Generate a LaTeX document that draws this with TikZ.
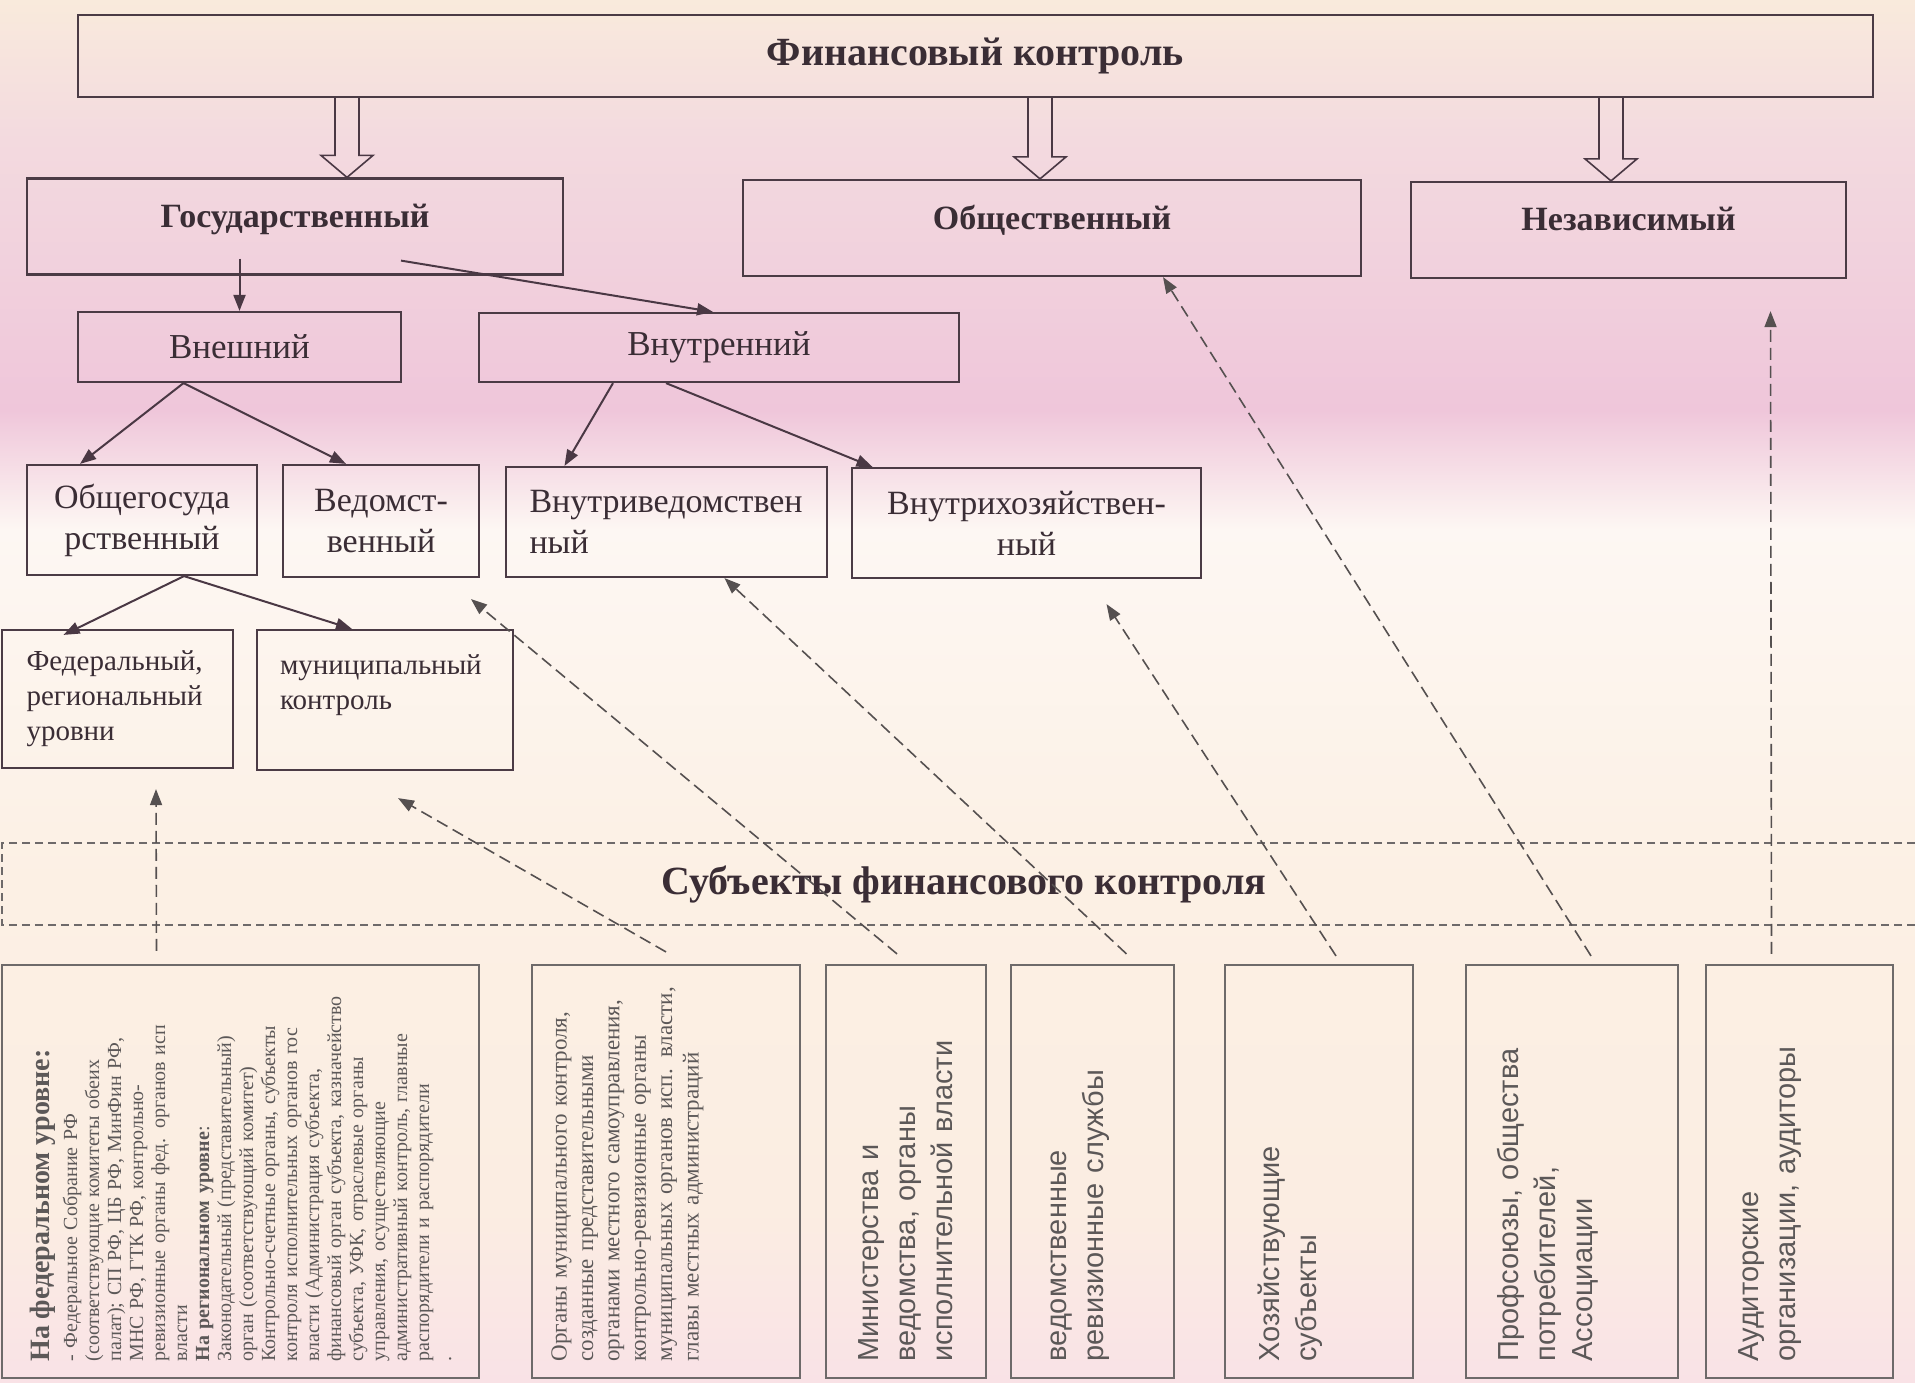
\documentclass[tikz,border=0pt]{standalone}
\usepackage{fontspec}
\setmainfont{Liberation Serif}
\newfontfamily\sansf{Liberation Sans}
\usetikzlibrary{arrows.meta}
\definecolor{bordure}{HTML}{4B3B45}
\definecolor{gris}{HTML}{6E6A6A}
\definecolor{texte}{HTML}{3A2D35}
\definecolor{textegris}{HTML}{5C5858}
\definecolor{trait}{HTML}{4A3844}
\definecolor{trait2}{HTML}{555050}
\definecolor{fondA}{HTML}{F9EADC}
\definecolor{fondB}{HTML}{F3DADF}
\definecolor{fondC}{HTML}{EFC6DA}
\definecolor{fondD}{HTML}{FDF7F3}
\definecolor{fondE}{HTML}{FCF0E4}
\definecolor{fondF}{HTML}{FBEDE2}
\definecolor{fondG}{HTML}{F9E2E6}
\tikzset{cadre/.style={draw=bordure, line width=1.1pt, inner sep=0pt, text=texte},
         niveau/.style={cadre, minimum height=48pt, font=\bfseries\fontsize{17}{20}\selectfont},
         palier/.style={cadre, font=\fontsize{17.5}{21}\selectfont},
         forme/.style={cadre, align=center, font=\fontsize{17}{20.5}\selectfont},
         echelon/.style={cadre, align=left, font=\fontsize{14.5}{17.5}\selectfont},
         sujet/.style={draw=gris, line width=1.1pt, rotate=90, inner sep=0pt,
                       minimum width=206.5pt, text width=190pt, align=left,
                       text=textegris, font=\sansf\fontsize{14.5}{18.5}\selectfont},
         fleche/.style={draw=trait, line width=1pt, -{Triangle[length=8pt,width=6pt]}},
         tirets/.style={draw=trait2, line width=0.8pt, dash pattern=on 6pt off 3pt,
                        -{Triangle[length=8pt,width=6pt]}},
         bande/.style={draw=gris, line width=1.2pt, dash pattern=on 4pt off 2.5pt},
         creux/.style={draw=trait, line width=0.8pt}}
% hollow arrow from the top box down to #2, at x = #1
\newcommand{\creuse}[2]{%
  \path (#1,0 |- fin.south) coordinate (haut) (#1,0 |- #2.north) coordinate (bas);
  \draw[creux] ([xshift=-6pt]haut) -- ([xshift=-6pt,yshift=11pt]bas)
     -- ([xshift=-13pt,yshift=11pt]bas) -- (bas) -- ([xshift=13pt,yshift=11pt]bas)
     -- ([xshift=6pt,yshift=11pt]bas) -- ([xshift=6pt]haut);}

\begin{document}
\begin{tikzpicture}[x=0.5pt,y=-0.5pt]
\useasboundingbox (0,0) rectangle (1915,1382);
% Background:
\shade[top color=fondA, bottom color=fondB] (0,0) rectangle (1915,140);
\shade[top color=fondB, bottom color=fondC] (0,140) rectangle (1915,410);
\shade[top color=fondC, bottom color=fondD] (0,410) rectangle (1915,530);
\shade[top color=fondD, bottom color=fondE] (0,530) rectangle (1915,880);
\shade[top color=fondE, bottom color=fondF] (0,880) rectangle (1915,1210);
\shade[top color=fondF, bottom color=fondG] (0,1210) rectangle (1915,1382);

% Top box:
\node[cadre, minimum width=897.5pt, minimum height=41pt,
      font=\bfseries\fontsize{20}{24}\selectfont] (fin) at (975.5,56) {Финансовый контроль};
% Kinds of control:
\node[niveau, minimum width=268pt] (gos) at (295,226.5) {\raisebox{11pt}{Государственный}};
\node[niveau, minimum width=309pt] (obsh) at (1052,228) {\raisebox{11pt}{Общественный}};
\node[niveau, minimum width=217.5pt] (nezav) at (1628.5,230) {\raisebox{11pt}{Независимый}};
\node[palier, minimum width=161.5pt, minimum height=35pt] (vnesh) at (239.5,347) {Внешний};
\node[palier, minimum width=240pt, minimum height=34.5pt] (vnutr) at (719,347.5) {Внутренний};
\node[forme, minimum width=114.75pt, minimum height=55pt] (obshgos) at (142,520) {Общегосуда\\рственный};
\node[forme, minimum width=98pt, minimum height=56pt] (vedom) at (381,521) {Ведомст-\\венный};
\node[forme, align=left, text width=137pt, minimum width=160.5pt, minimum height=55pt] (vnved) at (666.5,522) {Внутриведомствен\\ный};
\node[forme, minimum width=174.5pt, minimum height=55pt] (vnhoz) at (1026.5,523) {Внутрихозяйствен-\\ный};
\node[echelon, text width=91pt, minimum width=115.5pt, minimum height=69pt] (fed) at (117.5,699) {Федеральный,\\региональный\\уровни};
\node[echelon, text width=105pt, minimum width=128pt, minimum height=70pt] (mun) at (385,700) {муниципальный\\контроль\\\mbox{}};

% Hollow arrows:
\creuse{347}{gos}
\creuse{1040}{obsh}
\creuse{1611}{nezav}
% Solid arrows:
\draw[fleche] (gos.south -| vnesh.north) ++(0,-17) -- (vnesh.north);
\draw[fleche] ([xshift=53pt,yshift=7.5pt]gos.south) -- ([xshift=-3pt]vnutr.north);
\draw[fleche] ([xshift=-28pt]vnesh.south) -- ([xshift=-31pt]obshgos.north);
\draw[fleche] ([xshift=-28pt]vnesh.south) -- ([xshift=-17.5pt]vedom.north);
\draw[fleche] ([xshift=-53pt]vnutr.south) -- ([xshift=-51pt]vnved.north);
\draw[fleche] ([xshift=-26.5pt]vnutr.south) -- ([xshift=-77pt]vnhoz.north);
\draw[fleche] ([xshift=21pt]obshgos.south) -- ([xshift=-27pt,yshift=-3pt]fed.north);
\draw[fleche] ([xshift=21pt]obshgos.south) -- ([xshift=-16.5pt]mun.north);

% Band of subjects:
\draw[bande] (1915,843) -- (2,843) -- (2,925) -- (1915,925);
\node[font=\bfseries\fontsize{20}{24}\selectfont, text=texte] (subj) at (964,884) {Субъекты финансового контроля};

% Subjects (rotated text):
\node[sujet, minimum height=238.5pt, font=\fontsize{10}{11}\selectfont] (b1) at (240.5,1171.5)
  {{\bfseries\fontsize{14}{15}\selectfont На федеральном уровне:}\\[3pt]
   - Федеральное Собрание РФ\\
   (соответствующие комитеты обеих\\
   палат); СП РФ, ЦБ РФ, МинФин РФ,\\
   МНС РФ, ГТК РФ, контрольно-\\
   ревизионные органы фед. органов исп\\
   власти\\
   \textbf{На региональном уровне}:\\
   Законодательный (представительный)\\
   орган (соответствующий комитет)\\
   Контрольно-счетные органы, субъекты\\
   контроля исполнительных органов гос\\
   власти (Администрация субъекта,\\
   финансовый орган субъекта, казначейство\\
   субъекта, УФК, отраслевые органы\\
   управления, осуществляющие\\
   административный контроль, главные\\
   распорядители и распорядители\\
   .};
\node[sujet, minimum height=134pt, text depth=107pt, font=\fontsize{11.5}{13.2}\selectfont] (b2) at (666,1171.5)
  {Органы муниципального контроля,\\
   созданные представительными\\
   органами местного самоуправления,\\
   контрольно-ревизионные органы\\
   муниципальных органов исп. власти,\\
   главы местных администраций};
\node[sujet, minimum height=80pt] (b3) at (906,1171.5) {Министерства и\\ведомства, органы\\исполнительной власти};
\node[sujet, minimum height=81.5pt, text depth=34pt] (b4) at (1092.5,1171.5) {ведомственные\\ревизионные службы};
\node[sujet, minimum height=94pt, text depth=50pt] (b5) at (1319,1171.5) {Хозяйствующие\\субъекты};
\node[sujet, minimum height=106pt, text depth=64pt] (b6) at (1572,1171.5) {Профсоюзы, общества\\потребителей,\\Ассоциации};
\node[sujet, minimum height=93.5pt, text depth=51pt] (b7) at (1799.5,1171.5) {Аудиторские\\организации, аудиторы};

% Dashed arrows:
\draw[tirets] ([xshift=-42pt,yshift=6.5pt]b1.east) -- ([xshift=19.25pt,yshift=-10pt]fed.south);
\draw[tirets] ([yshift=6pt]b2.east) -- ([xshift=6.5pt,yshift=-13.5pt]mun.south);
\draw[tirets] ([xshift=-4.5pt,yshift=5pt]b3.east) -- ([xshift=45pt,yshift=-10.5pt]vedom.south);
\draw[tirets] ([xshift=17pt,yshift=5pt]b4.east) -- ([xshift=29pt]vnved.south);
\draw[tirets] ([xshift=8.5pt,yshift=4pt]b5.east) -- ([xshift=40pt,yshift=-12.5pt]vnhoz.south);
\draw[tirets] ([xshift=9.5pt,yshift=4pt]b6.east) -- ([xshift=55.5pt]obsh.south);
\draw[tirets] ([xshift=-14pt,yshift=5pt]b7.east) -- ([xshift=71pt,yshift=-16pt]nezav.south);
\end{tikzpicture}
\end{document}
